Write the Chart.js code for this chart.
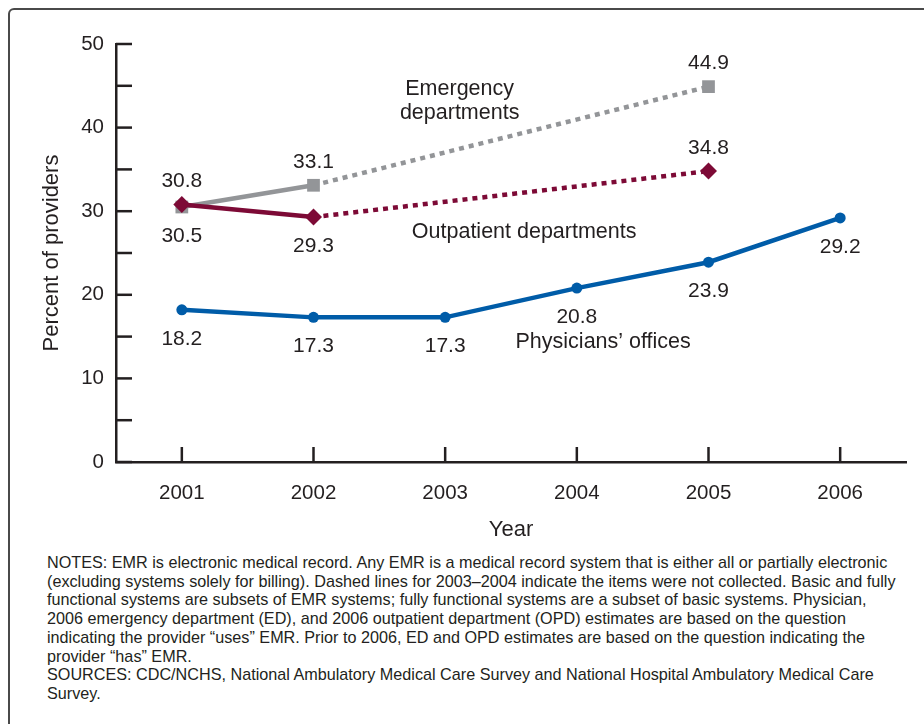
<!DOCTYPE html>
<html>
<head>
<meta charset="utf-8">
<script src="https://cdn.jsdelivr.net/npm/chart.js@4.4.0/dist/chart.umd.min.js"></script>
<style>
  html, body { margin: 0; padding: 0; background: #fff; overflow: hidden; }
  body { width: 924px; height: 724px; position: relative; }
  #frame {
    position: absolute; left: 8px; top: 8px; width: 940px; height: 740px;
    border: 2px solid #4a4a4a; border-radius: 6px; box-sizing: border-box;
  }
  #chart { position: absolute; left: 0; top: 0; }
  #notes {
    position: absolute; left: 47px; top: 553px;
    font-family: "Liberation Sans", Arial, Helvetica, sans-serif;
    font-size: 16.2px; line-height: 18.7px; color: #231f20; white-space: nowrap;
  }
</style>
</head>
<body>
<div id="frame"></div>
<canvas id="chart" width="924" height="550"></canvas>
<div id="notes">
NOTES: EMR is electronic medical record. Any EMR is a medical record system that is either all or partially electronic<br>
(excluding systems solely for billing). Dashed lines for 2003–2004 indicate the items were not collected. Basic and fully<br>
functional systems are subsets of EMR systems; fully functional systems are a subset of basic systems. Physician,<br>
2006 emergency department (ED), and 2006 outpatient department (OPD) estimates are based on the question<br>
indicating the provider “uses” EMR. Prior to 2006, ED and OPD estimates are based on the question indicating the<br>
provider “has” EMR.<br>
SOURCES: CDC/NCHS, National Ambulatory Medical Care Survey and National Hospital Ambulatory Medical Care<br>
Survey.
</div>
<script>
// data
const years = ['2001', '2002', '2003', '2004', '2005', '2006'];
const emergency = [30.5, 33.1, null, null, 44.9, null];
const outpatient = [30.8, 29.3, null, null, 34.8, null];
const physicians = [18.2, 17.3, 17.3, 20.8, 23.9, 29.2];

// where each value label sits relative to its point
const emergencyLabelPos = ['below', 'above', null, null, 'above', null];
const outpatientLabelPos = ['above', 'below', null, null, 'above', null];
const physiciansLabelPos = ['below', 'below', 'below', 'below', 'below', 'below'];

const FONT = '"Liberation Sans", Arial, Helvetica, sans-serif';
const INK = '#231f20';

// years not collected (2003-2004) are bridged with a dotted line
const dotted = ctx => (ctx.p0.skip || ctx.p1.skip ? [5, 5] : undefined);

// tick marks drawn inward, plus value labels and series names
const decorations = {
    id: 'decorations',
    afterDatasetsDraw(chart) {
        const { ctx, chartArea, scales: { x, y } } = chart;
        ctx.save();
        ctx.strokeStyle = INK;
        ctx.lineWidth = 2.5;
        y.ticks.forEach(t => {
            const py = y.getPixelForValue(t.value);
            ctx.beginPath();
            ctx.moveTo(chartArea.left, py);
            ctx.lineTo(chartArea.left + 16, py);
            ctx.stroke();
        });
        years.forEach((yr, i) => {
            const px = x.getPixelForValue(i);
            ctx.beginPath();
            ctx.moveTo(px, chartArea.bottom);
            ctx.lineTo(px, chartArea.bottom - 15);
            ctx.stroke();
        });

        ctx.fillStyle = INK;
        ctx.font = '21px ' + FONT;
        ctx.textAlign = 'center';
        ctx.textBaseline = 'middle';
        chart.data.datasets.forEach((ds, di) => {
            const meta = chart.getDatasetMeta(di);
            ds.data.forEach((v, i) => {
                if (v === null) return;
                const pt = meta.data[i];
                const dy = ds.labelPos[i] === 'above' ? -23 : 29;
                ctx.fillText(v.toFixed(1), pt.x, pt.y + dy);
            });
        });

        ctx.font = '21.5px ' + FONT;
        ctx.fillText('Emergency', x.getPixelForValue(2.11), y.getPixelForValue(44.6));
        ctx.fillText('departments', x.getPixelForValue(2.11), y.getPixelForValue(41.7));
        ctx.fillText('Outpatient departments', x.getPixelForValue(2.6), y.getPixelForValue(27.5));
        ctx.fillText('Physicians\u2019 offices', x.getPixelForValue(3.2), y.getPixelForValue(14.3));
        ctx.restore();
    }
};

new Chart(document.getElementById('chart'), {
    type: 'line',
    data: {
        labels: years,
        datasets: [
            {
                label: 'Physicians\u2019 offices',
                data: physicians,
                labelPos: physiciansLabelPos,
                borderColor: '#005ca8',
                backgroundColor: '#005ca8',
                borderWidth: 4.5,
                pointStyle: 'circle',
                pointRadius: 5.5,
                pointBorderWidth: 0
            },
            {
                label: 'Outpatient departments',
                data: outpatient,
                labelPos: outpatientLabelPos,
                borderColor: '#7d0a36',
                backgroundColor: '#7d0a36',
                borderWidth: 4.5,
                borderCapStyle: 'butt',
                pointStyle: 'rectRot',
                pointRadius: 8.5,
                pointBorderWidth: 0,
                spanGaps: true,
                segment: { borderDash: dotted }
            },
            {
                label: 'Emergency departments',
                data: emergency,
                labelPos: emergencyLabelPos,
                borderColor: '#939598',
                backgroundColor: '#939598',
                borderWidth: 4.5,
                borderCapStyle: 'butt',
                pointStyle: 'rect',
                pointRadius: 9,
                pointBorderWidth: 0,
                spanGaps: true,
                segment: { borderDash: dotted }
            }
        ]
    },
    options: {
        responsive: false,
        devicePixelRatio: 1,
        animation: false,
        layout: { padding: { left: 0, top: 44, right: 18, bottom: 0 } },
        plugins: { legend: { display: false }, tooltip: { enabled: false } },
        elements: { line: { tension: 0 } },
        scales: {
            x: {
                offset: true,
                grid: { display: false, drawTicks: false },
                border: { display: true, color: INK, width: 2.5 },
                ticks: { color: INK, font: { family: FONT, size: 20.5 }, padding: 19.5 },
                title: {
                    display: true, text: 'Year', color: INK,
                    font: { family: FONT, size: 22, lineHeight: 1.2 },
                    padding: { bottom: 7, top: 0 }
                },
                afterFit(scale) { scale.height = 88; }
            },
            y: {
                min: 0,
                max: 50,
                grid: { display: false, drawTicks: false },
                border: { display: true, color: INK, width: 2.5 },
                ticks: {
                    stepSize: 5,
                    color: INK,
                    font: { family: FONT, size: 20.5 },
                    padding: 12,
                    callback: v => (v % 10 === 0 ? v : '')
                },
                title: {
                    display: true, text: 'Percent of providers', color: INK,
                    font: { family: FONT, size: 22, lineHeight: 1.2 },
                    padding: { top: 39, bottom: 0 }
                },
                afterFit(scale) { scale.width = 116; }
            }
        }
    },
    plugins: [decorations]
});
</script>
</body>
</html>
